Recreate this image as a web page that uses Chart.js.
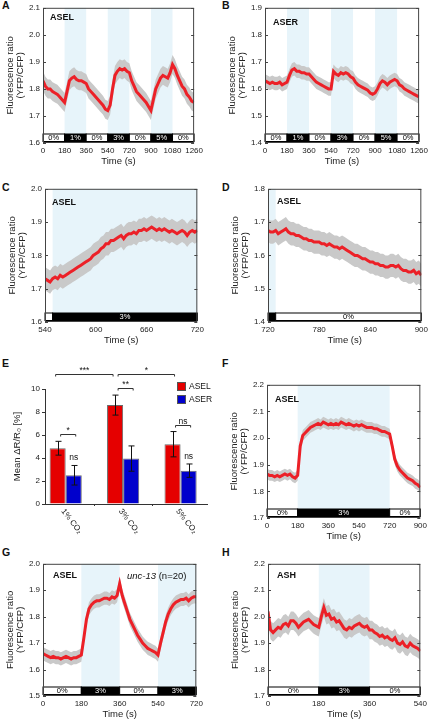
<!DOCTYPE html>
<html>
<head>
<meta charset="utf-8">
<script src="https://cdn.jsdelivr.net/npm/chart.js@4.4.1/dist/chart.umd.min.js"></script>
<style>
body { margin: 0; background: #fff; width: 430px; height: 723px; position: relative; overflow: hidden; font-family: 'Liberation Sans', Arial, sans-serif; }
canvas { position: absolute; }
.lt { position: absolute; font-weight: bold; font-size: 10.5px; line-height: 1; color: #111; }
</style>
</head>
<body>
<div class="lt" style="left:2px;top:0px">A</div>
<div class="lt" style="left:222px;top:0px">B</div>
<div class="lt" style="left:2px;top:182px">C</div>
<div class="lt" style="left:222px;top:182px">D</div>
<div class="lt" style="left:2px;top:358px">E</div>
<div class="lt" style="left:222px;top:358px">F</div>
<div class="lt" style="left:2px;top:547px">G</div>
<div class="lt" style="left:222px;top:547px">H</div>
<canvas id="cA"></canvas><canvas id="cB"></canvas>
<canvas id="cC"></canvas><canvas id="cD"></canvas>
<canvas id="cE"></canvas><canvas id="cF"></canvas>
<canvas id="cG"></canvas><canvas id="cH"></canvas>
<script>
Chart.defaults.font.family = "'Liberation Sans', Arial, sans-serif";
Chart.defaults.color = '#222';

// ---- data ----
// A: ASEL, 0-1260 s, sample every 20 s
const valsA = [1.83, 1.81, 1.80, 1.80, 1.79, 1.785, 1.78, 1.77, 1.76, 1.75,
  1.79, 1.83, 1.84, 1.845, 1.835, 1.83, 1.83, 1.825, 1.82, 1.80,
  1.79, 1.78, 1.77, 1.76, 1.75, 1.74, 1.725, 1.72, 1.74, 1.80,
  1.85, 1.865, 1.875, 1.87, 1.875, 1.865, 1.86, 1.83, 1.81, 1.79,
  1.78, 1.77, 1.76, 1.75, 1.735, 1.72, 1.76, 1.80, 1.82, 1.84,
  1.85, 1.845, 1.84, 1.86, 1.89, 1.875, 1.85, 1.83, 1.81, 1.80,
  1.78, 1.77, 1.755, 1.75];
// B: ASER, 0-1260 s, every 20 s
const valsB = [1.63, 1.625, 1.62, 1.625, 1.62, 1.62, 1.625, 1.615, 1.62, 1.625,
  1.65, 1.67, 1.675, 1.665, 1.665, 1.66, 1.66, 1.655, 1.655, 1.645,
  1.635, 1.625, 1.62, 1.615, 1.61, 1.605, 1.60, 1.60, 1.665, 1.655,
  1.65, 1.66, 1.655, 1.66, 1.655, 1.645, 1.64, 1.625, 1.615, 1.61,
  1.605, 1.60, 1.595, 1.585, 1.58, 1.585, 1.60, 1.62, 1.63, 1.625,
  1.615, 1.625, 1.63, 1.635, 1.63, 1.615, 1.61, 1.60, 1.595, 1.59,
  1.585, 1.58, 1.575, 1.57];
// C: ASEL, 540-720 s, every 3 s
const valsC = [1.73, 1.725, 1.72, 1.73, 1.735, 1.73, 1.74, 1.735, 1.74, 1.745,
  1.75, 1.755, 1.76, 1.765, 1.77, 1.775, 1.78, 1.785, 1.79, 1.80,
  1.805, 1.81, 1.82, 1.825, 1.835, 1.835, 1.845, 1.845, 1.85, 1.855,
  1.86, 1.85, 1.86, 1.865, 1.865, 1.87, 1.865, 1.875, 1.875, 1.88,
  1.875, 1.88, 1.885, 1.88, 1.875, 1.88, 1.875, 1.88, 1.875, 1.87,
  1.875, 1.87, 1.865, 1.87, 1.875, 1.87, 1.86, 1.87, 1.875, 1.87, 1.875];
// D: ASEL, 720-900 s, every 3 s
const valsD = [1.675, 1.67, 1.67, 1.675, 1.665, 1.67, 1.675, 1.68, 1.67, 1.665,
  1.665, 1.66, 1.66, 1.655, 1.65, 1.65, 1.645, 1.645, 1.64, 1.64,
  1.64, 1.635, 1.635, 1.63, 1.635, 1.63, 1.625, 1.625, 1.62, 1.625,
  1.62, 1.615, 1.61, 1.605, 1.60, 1.60, 1.595, 1.59, 1.59, 1.585,
  1.58, 1.58, 1.575, 1.575, 1.57, 1.57, 1.565, 1.565, 1.57, 1.57,
  1.565, 1.57, 1.56, 1.555, 1.555, 1.55, 1.55, 1.555, 1.545, 1.55, 1.54];
// F: ASEL, 0-900 s, every 15 s
const valsF = [1.865, 1.86, 1.86, 1.855, 1.86, 1.855, 1.86, 1.865, 1.86, 1.865,
  1.855, 1.85, 1.86, 1.97, 2.01, 2.02, 2.03, 2.04, 2.045, 2.05,
  2.055, 2.05, 2.06, 2.055, 2.05, 2.055, 2.05, 2.055, 2.05, 2.06,
  2.055, 2.05, 2.055, 2.05, 2.045, 2.05, 2.045, 2.05, 2.045, 2.04,
  2.04, 2.04, 2.035, 2.035, 2.03, 2.025, 2.025, 2.02, 2.015, 1.97,
  1.92, 1.895, 1.88, 1.87, 1.86, 1.85, 1.845, 1.84, 1.83, 1.825, 1.815];
// G: ASEL unc-13, 0-720 s, every 12 s
const valsG = [1.66, 1.655, 1.65, 1.645, 1.65, 1.645, 1.645, 1.64, 1.645, 1.65,
  1.645, 1.64, 1.645, 1.645, 1.65, 1.655, 1.72, 1.79, 1.83, 1.845,
  1.855, 1.86, 1.86, 1.865, 1.87, 1.87, 1.865, 1.875, 1.87, 1.88,
  1.925, 1.88, 1.85, 1.82, 1.79, 1.77, 1.75, 1.73, 1.715, 1.70,
  1.69, 1.68, 1.675, 1.67, 1.665, 1.655, 1.70, 1.74, 1.78, 1.81,
  1.83, 1.845, 1.855, 1.86, 1.865, 1.865, 1.87, 1.86, 1.87, 1.875, 1.875];
// H: ASH, 0-540 s, every 9 s
const valsH = [2.02, 1.95, 1.94, 1.95, 1.96, 1.955, 1.97, 1.975, 1.965, 1.985,
  1.985, 1.975, 1.96, 1.97, 1.98, 1.985, 1.99, 1.98, 1.97, 1.965,
  1.96, 2.0, 2.035, 2.005, 2.01, 1.99, 1.995, 1.98, 1.985, 1.97,
  1.955, 1.95, 1.96, 1.955, 1.965, 1.97, 1.975, 1.965, 1.96, 1.965,
  1.95, 1.95, 1.94, 1.935, 1.925, 1.93, 1.92, 1.925, 1.915, 1.91,
  1.92, 1.90, 1.895, 1.905, 1.89, 1.885, 1.90, 1.89, 1.885, 1.88, 1.87];

// SEM half-widths of the grey bands
const semA = 0.035, semB = 0.025, semC = 0.035, semD = 0.035, semF = 0.02, semG = 0.025, semH = 0.035;

// stimulus protocol: [start s, end s, CO2 %]
const stimA = [[0, 180, 0], [180, 360, 1], [360, 540, 0], [540, 720, 3], [720, 900, 0], [900, 1080, 5], [1080, 1260, 0]];
const stimC = [[540, 549, 0], [549, 720, 3]];
const stimD = [[720, 729, 3], [729, 900, 0]];
const stimF = [[0, 180, 0], [180, 720, 3], [720, 900, 0]];
const stimG = [[0, 180, 0], [180, 360, 3], [360, 540, 0], [540, 720, 3]];
const stimH = [[0, 180, 0], [180, 360, 3], [360, 540, 0]];

const xTicksA = [0, 180, 360, 540, 720, 900, 1080, 1260];
const xTicksC = [540, 600, 660, 720];
const xTicksD = [720, 780, 840, 900];
const xTicksF = [0, 180, 360, 540, 720, 900];
const xTicksG = [0, 180, 360, 540, 720];
const xTicksH = [0, 180, 360, 540];
const yTicksA = [1.6, 1.7, 1.8, 1.9, 2.0, 2.1];
const yTicksB = [1.4, 1.5, 1.6, 1.7, 1.8, 1.9];
const yTicksC = [1.6, 1.7, 1.8, 1.9, 2.0];
const yTicksD = [1.4, 1.5, 1.6, 1.7, 1.8];
const yTicksF = [1.7, 1.8, 1.9, 2.0, 2.1, 2.2];
const yTicksG = [1.5, 1.6, 1.7, 1.8, 1.9, 2.0];

// E: mean dR/R0 (%) per CO2 step
const concLabels = ['1% CO₂', '3% CO₂', '5% CO₂'];
const aselMean = [4.85, 8.6, 5.2];
const aselErr = [0.6, 0.87, 1.1];
const aserMean = [2.5, 3.95, 2.9];
const aserErr = [0.85, 1.1, 0.58];
const sigPair = ['*', '**', 'ns'];       // ASEL vs ASER at each step
const sigAser = ['ns', '', 'ns'];
const sigAcross = [['***', 0, 1], ['*', 1, 2]];  // ASEL between steps

// ---- drawing helpers ----
const panelDecor = {
  id: 'panelDecor',
  beforeDatasetsDraw(chart, args, o) {
    const {ctx, chartArea: a, scales: {x}} = chart;
    ctx.save();
    ctx.fillStyle = '#e7f4fa';
    o.stim.forEach(s => {
      if (s[2] > 0) {
        const x0 = Math.max(a.left, x.getPixelForValue(s[0]));
        const x1 = Math.min(a.right, x.getPixelForValue(s[1]));
        ctx.fillRect(x0, a.top, x1 - x0, a.bottom - a.top);
      }
    });
    ctx.restore();
  },
  afterDatasetsDraw(chart, args, o) {
    const {ctx, chartArea: a, scales: {x, y}} = chart;
    ctx.save();
    // stimulus bar
    const by = a.bottom - 9, bh = 7.5;
    o.stim.forEach(s => {
      const x0 = x.getPixelForValue(s[0]), x1 = x.getPixelForValue(s[1]);
      ctx.fillStyle = s[2] > 0 ? '#000' : '#fff';
      ctx.fillRect(x0, by, x1 - x0, bh);
      ctx.strokeStyle = '#000';
      ctx.lineWidth = 1;
      ctx.strokeRect(x0, by, x1 - x0, bh);
      if (x1 - x0 > 14) {
        ctx.fillStyle = s[2] > 0 ? '#fff' : '#000';
        ctx.font = "7.5px 'Liberation Sans', Arial, sans-serif";
        ctx.textAlign = 'center';
        ctx.textBaseline = 'middle';
        ctx.fillText(s[2] + '%', (x0 + x1) / 2, by + bh / 2 + 0.5);
      }
    });
    // frame + inward ticks
    ctx.strokeStyle = '#444';
    ctx.lineWidth = 1;
    ctx.strokeRect(a.left + 0.5, a.top + 0.5, a.right - a.left - 1, a.bottom - a.top - 1);
    y.ticks.forEach(t => {
      const py = Math.round(y.getPixelForValue(t.value)) + 0.5;
      ctx.beginPath();
      ctx.moveTo(a.left, py); ctx.lineTo(a.left + 3, py);
      ctx.moveTo(a.right, py); ctx.lineTo(a.right - 3, py);
      ctx.stroke();
    });
    // neuron label
    ctx.fillStyle = '#111';
    ctx.font = "bold 9px 'Liberation Sans', Arial, sans-serif";
    ctx.textAlign = 'left';
    ctx.textBaseline = 'middle';
    ctx.fillText(o.name, a.left + o.dx, a.top + o.dy);
    if (o.extra) {
      ctx.font = "italic 9.5px 'Liberation Sans', Arial, sans-serif";
      const ex = a.left + o.extra.dx;
      ctx.fillText(o.extra.italic, ex, a.top + o.extra.dy);
      const w = ctx.measureText(o.extra.italic).width;
      ctx.font = "9.5px 'Liberation Sans', Arial, sans-serif";
      ctx.fillText(o.extra.rest, ex + w, a.top + o.extra.dy);
    }
    ctx.restore();
  }
};

function makeTrace(id, rect, p) {
  const cv = document.getElementById(id);
  cv.width = rect.r - rect.l + 51;
  cv.height = rect.b - rect.t + 35;
  cv.style.left = (rect.l - 43) + 'px';
  cv.style.top = (rect.t - 7) + 'px';
  const mean = p.vals.map((v, i) => ({x: p.t0 + i * p.dt, y: v}));
  const upper = mean.map(d => ({x: d.x, y: d.y + p.sem}));
  const lower = mean.map(d => ({x: d.x, y: d.y - p.sem}));
  // dataset 0 is drawn last (on top)
  new Chart(cv, {
    type: 'line',
    data: {
      datasets: [
        {data: mean, borderColor: '#ec2027', borderWidth: 3, pointRadius: 0, fill: false},
        {data: upper, borderWidth: 0, pointRadius: 0, fill: false},
        {data: lower, borderWidth: 0, pointRadius: 0, fill: '-1', backgroundColor: '#c9c9c9'}
      ]
    },
    options: {
      responsive: false,
      animation: false,
      devicePixelRatio: 1,
      layout: {padding: {left: 1, top: 7, right: 8, bottom: 0}},
      plugins: {
        legend: {display: false},
        tooltip: {enabled: false},
        panelDecor: {stim: p.stim, name: p.name, dx: p.dx, dy: p.dy, extra: p.extra}
      },
      scales: {
        x: {
          type: 'linear',
          min: p.xt[0], max: p.xt[p.xt.length - 1],
          afterBuildTicks: s => { s.ticks = p.xt.map(v => ({value: v})); },
          afterFit: s => { s.height = 28; },
          grid: {display: false, drawTicks: false},
          border: {display: false},
          ticks: {font: {size: 8}, color: '#222', padding: 3, maxRotation: 0, autoSkip: false, callback: v => String(v)},
          title: {display: true, text: 'Time (s)', font: {size: 9.5}, color: '#222', padding: {top: 0, bottom: 4}}
        },
        y: {
          min: p.yt[0], max: p.yt[p.yt.length - 1],
          afterBuildTicks: s => { s.ticks = p.yt.map(v => ({value: v})); },
          afterFit: s => { s.width = 42; },
          grid: {display: false, drawTicks: false},
          border: {display: false},
          ticks: {font: {size: 8}, color: '#222', padding: 3, callback: v => v.toFixed(1)},
          title: {display: true, text: ['Fluorescence ratio', '(YFP/CFP)'], font: {size: 9.5, lineHeight: 1.1}, color: '#222', padding: {top: 4, bottom: 0}}
        }
      }
    },
    plugins: [panelDecor]
  });
}

makeTrace('cA', {l: 43, t: 7, r: 198, b: 143}, {vals: valsA, t0: 0, dt: 20, sem: semA, stim: stimA, xt: xTicksA, yt: yTicksA, name: 'ASEL', dx: 7, dy: 10});
makeTrace('cB', {l: 265, t: 7, r: 423, b: 143}, {vals: valsB, t0: 0, dt: 20, sem: semB, stim: stimA, xt: xTicksA, yt: yTicksB, name: 'ASER', dx: 8, dy: 15});
makeTrace('cC', {l: 45, t: 188, r: 199, b: 322}, {vals: valsC, t0: 540, dt: 3, sem: semC, stim: stimC, xt: xTicksC, yt: yTicksC, name: 'ASEL', dx: 7, dy: 14});
makeTrace('cD', {l: 268, t: 188, r: 423, b: 322}, {vals: valsD, t0: 720, dt: 3, sem: semD, stim: stimD, xt: xTicksD, yt: yTicksD, name: 'ASEL', dx: 9, dy: 13});
makeTrace('cF', {l: 267, t: 384, r: 422, b: 518}, {vals: valsF, t0: 0, dt: 15, sem: semF, stim: stimF, xt: xTicksF, yt: yTicksF, name: 'ASEL', dx: 8, dy: 15});
makeTrace('cG', {l: 43, t: 563, r: 198, b: 696}, {vals: valsG, t0: 0, dt: 12, sem: semG, stim: stimG, xt: xTicksG, yt: yTicksG, name: 'ASEL', dx: 10, dy: 12,
  extra: {italic: 'unc-13', rest: ' (n=20)', dx: 84, dy: 13}});
makeTrace('cH', {l: 268, t: 563, r: 422, b: 696}, {vals: valsH, t0: 0, dt: 9, sem: semH, stim: stimH, xt: xTicksH, yt: yTicksF, name: 'ASH', dx: 9, dy: 12});

// ---- panel E: bar chart ----
const barDecor = {
  id: 'barDecor',
  afterDatasetsDraw(chart) {
    const {ctx, chartArea: a, scales: {x, y}} = chart;
    const m0 = chart.getDatasetMeta(0).data, m1 = chart.getDatasetMeta(1).data;
    ctx.save();
    ctx.strokeStyle = '#111';
    ctx.fillStyle = '#111';
    ctx.lineWidth = 1;
    const errBar = (cx, mean, err) => {
      const yt = y.getPixelForValue(mean + err), yb = y.getPixelForValue(mean - err);
      ctx.beginPath();
      ctx.moveTo(cx, yt); ctx.lineTo(cx, yb);
      ctx.moveTo(cx - 3, yt); ctx.lineTo(cx + 3, yt);
      ctx.moveTo(cx - 3, yb); ctx.lineTo(cx + 3, yb);
      ctx.stroke();
      return yt;
    };
    const tops0 = [], tops1 = [];
    aselMean.forEach((v, i) => tops0.push(errBar(Math.round(m0[i].x) + 0.5, v, aselErr[i])));
    aserMean.forEach((v, i) => tops1.push(errBar(Math.round(m1[i].x) + 0.5, v, aserErr[i])));

    ctx.font = "8.5px 'Liberation Sans', Arial, sans-serif";
    ctx.textAlign = 'center';
    ctx.textBaseline = 'alphabetic';
    const bracket = (x0, x1, yy, txt) => {
      yy = Math.round(yy) + 0.5;
      ctx.strokeStyle = '#333';
      ctx.beginPath();
      ctx.moveTo(x0, yy + 2); ctx.lineTo(x0, yy); ctx.lineTo(x1, yy); ctx.lineTo(x1, yy + 2);
      ctx.stroke();
      ctx.fillText(txt, (x0 + x1) / 2, yy - 2);
    };
    sigPair.forEach((s, i) => {
      bracket(m0[i].x + 3, m1[i].x + 2, Math.min(tops0[i], tops1[i]) - 7, s);
    });
    sigAser.forEach((s, i) => {
      if (s) ctx.fillText(s, m1[i].x, tops1[i] - 5);
    });
    sigAcross.forEach(([s, i, j]) => {
      const x0 = i === 0 ? m0[i].x - 2 : m0[i].x + 3;
      bracket(x0, m0[j].x - (i === 0 ? 2 : -2), a.top - 15, s);
    });
    // boundary ticks on the category axis
    [1.5, 2.5].forEach(v => {
      const px = Math.round(x.getPixelForValue(v)) + 0.5;
      ctx.beginPath(); ctx.moveTo(px, a.bottom); ctx.lineTo(px, a.bottom + 2); ctx.stroke();
    });
    // rotated category labels
    ctx.font = "8px 'Liberation Sans', Arial, sans-serif";
    ctx.textAlign = 'left';
    ctx.textBaseline = 'middle';
    concLabels.forEach((lab, i) => {
      const cx = (m0[i].x + m1[i].x) / 2;
      ctx.save();
      ctx.translate(cx - 3, a.bottom + 6);
      ctx.rotate(52 * Math.PI / 180);
      ctx.fillText(lab, 0, 0);
      ctx.restore();
    });
    // legend
    chart.data.datasets.forEach((ds, i) => {
      const ly = a.top - 7 + i * 13;
      ctx.fillStyle = ds.backgroundColor;
      ctx.fillRect(a.right - 30, ly, 9, 9);
      ctx.strokeStyle = '#555';
      ctx.strokeRect(a.right - 29.5, ly + 0.5, 8, 8);
      ctx.fillStyle = '#111';
      ctx.font = "8.5px 'Liberation Sans', Arial, sans-serif";
      ctx.fillText(ds.label, a.right - 18, ly + 5);
    });
    ctx.restore();
  }
};

const cvE = document.getElementById('cE');
cvE.width = 215; cvE.height = 180;
cvE.style.left = '0px'; cvE.style.top = '360px';
new Chart(cvE, {
  type: 'bar',
  data: {
    datasets: [
      {label: 'ASEL', data: aselMean.map((v, i) => ({x: i + 1, y: v})), backgroundColor: '#e50000', borderColor: '#6a6a6a', borderWidth: 1,
        categoryPercentage: 0.56, barPercentage: 1},
      {label: 'ASER', data: aserMean.map((v, i) => ({x: i + 1, y: v})), backgroundColor: '#0000cc', borderColor: '#6a6a6a', borderWidth: 1,
        categoryPercentage: 0.56, barPercentage: 1}
    ]
  },
  options: {
    responsive: false,
    animation: false,
    devicePixelRatio: 1,
    layout: {padding: {left: 8, top: 29, right: 8, bottom: 0}},
    plugins: {legend: {display: false}, tooltip: {enabled: false}},
    scales: {
      x: {
        type: 'linear', min: 0.64, max: 3.46, offset: false,
        afterBuildTicks: s => { s.ticks = concLabels.map((c, i) => ({value: i + 1})); },
        afterFit: s => { s.height = 36; },
        ticks: {display: false},
        grid: {display: false},
        border: {display: true, color: '#333'}
      },
      y: {
        min: 0, max: 10,
        afterFit: s => { s.width = 37; },
        ticks: {stepSize: 2, font: {size: 8}, color: '#222', padding: 2},
        grid: {drawOnChartArea: false, tickLength: 3, color: '#333'},
        border: {display: true, color: '#333'},
        title: {display: true, text: 'Mean ΔR/R₀ [%]', font: {size: 9.5}, color: '#222', padding: {top: 4, bottom: 0}}
      }
    }
  },
  plugins: [barDecor]
});
</script>
</body>
</html>
